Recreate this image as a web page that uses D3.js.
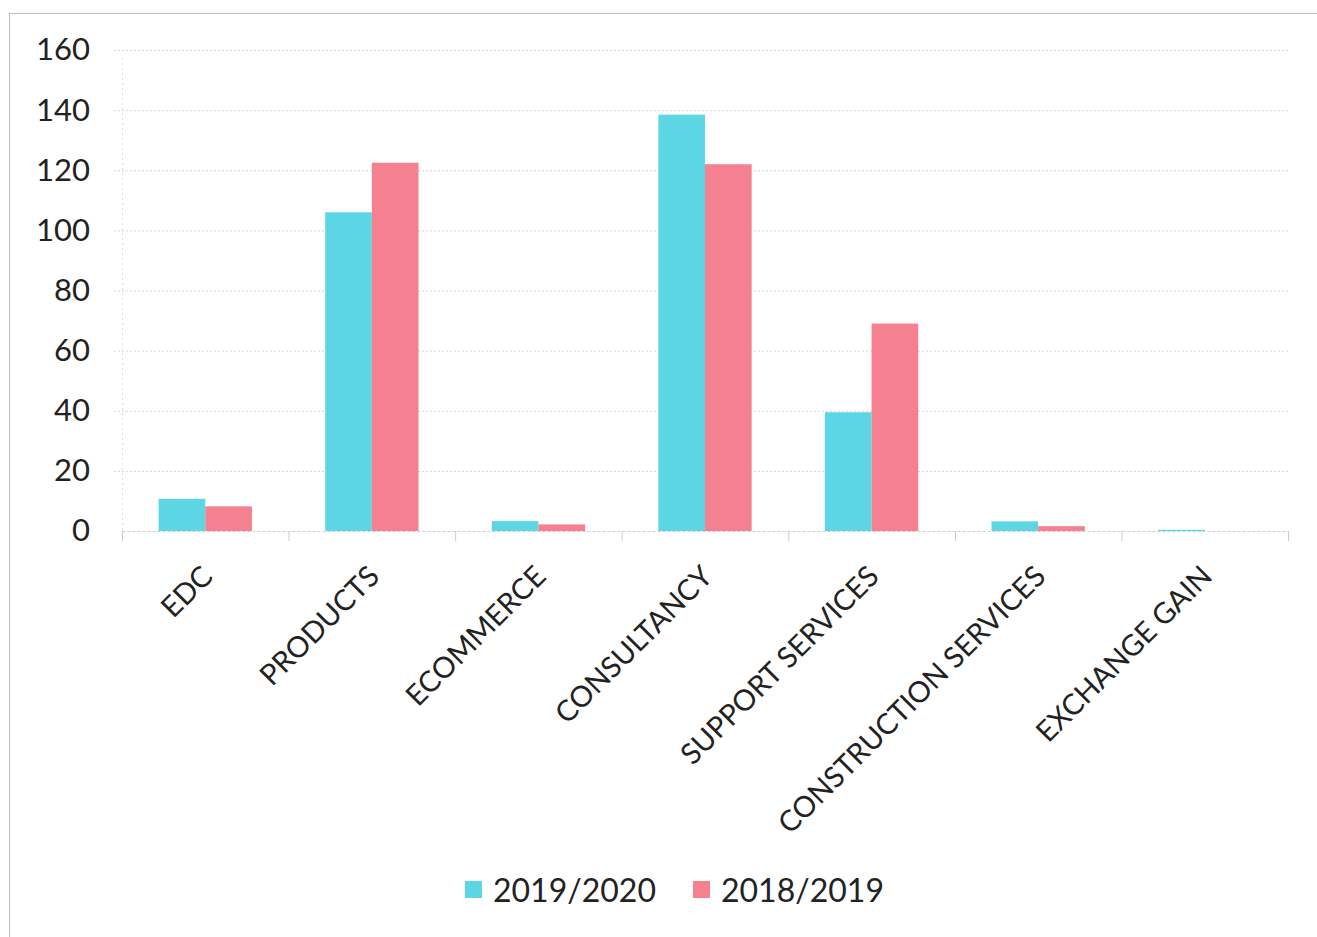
<!DOCTYPE html>
<html>
<head>
<meta charset="utf-8">
<script src="https://cdn.jsdelivr.net/npm/d3@7"></script>
<style>
  body { margin: 0; background: #fff; }
  text { font-family: Lato, "Open Sans", sans-serif; fill: #222; }
</style>
</head>
<body>
<svg id="chart" width="1317" height="937"></svg>
<script>
var categories = ["EDC", "PRODUCTS", "ECOMMERCE", "CONSULTANCY", "SUPPORT SERVICES", "CONSTRUCTION SERVICES", "EXCHANGE GAIN"];
var series = ["2019/2020", "2018/2019"];
var values2019 = [10.7, 106, 3.3, 138.5, 39.5, 3.2, 0.4];
var values2018 = [8.2, 122.5, 2.2, 122, 69, 1.6, 0];
var yTicks = [0, 20, 40, 60, 80, 100, 120, 140, 160];
var colors = ["#5cd6e4", "#f5808f"];

var svg = d3.select("#chart");
var margin = {top: 50, left: 122, right: 29, bottom: 406};
var chartWidth = 1317 - margin.left - margin.right;
var chartHeight = 937 - margin.top - margin.bottom;

// faint outer frame
svg.append("rect")
    .attr("x", 9.5).attr("y", 13.5)
    .attr("width", 1320).attr("height", 940)
    .style("fill", "none").style("stroke", "#bbb").style("stroke-width", 1);

var g = svg.append("g")
    .attr("transform", "translate(" + margin.left + "," + margin.top + ")");

var xScale = d3.scaleBand().domain(categories).range([0, chartWidth]).paddingInner(0).paddingOuter(0);
var xInner = d3.scaleBand().domain(series).range([0, xScale.bandwidth()]).paddingOuter(0.785).paddingInner(0);
var yScale = d3.scaleLinear().domain([0, 160]).range([chartHeight, 0]);

// gridlines
g.selectAll("line.grid")
    .data(yTicks.slice(1))
    .enter().append("line")
    .attr("class", "grid")
    .attr("x1", -8).attr("x2", chartWidth)
    .attr("y1", function(d){ return yScale(d) + 0.5; })
    .attr("y2", function(d){ return yScale(d) + 0.5; })
    .style("stroke", "#d4d4d4").style("stroke-dasharray", "2,2");

// y axis line
g.append("line")
    .attr("x1", 0.5).attr("x2", 0.5).attr("y1", 8).attr("y2", chartHeight + 12)
    .style("stroke", "#ddd").style("stroke-dasharray", "2,3");

var data = categories.map(function(c, i){
    return {cat: c, vals: [{s: series[0], v: values2019[i]}, {s: series[1], v: values2018[i]}]};
});

var groups = g.selectAll("g.cat")
    .data(data).enter().append("g")
    .attr("class", "cat")
    .attr("transform", function(d){ return "translate(" + xScale(d.cat) + ",0)"; });

groups.selectAll("rect")
    .data(function(d){ return d.vals; })
    .enter().append("rect")
    .attr("x", function(d){ return xInner(d.s); })
    .attr("width", xInner.bandwidth())
    .attr("y", function(d){ return yScale(d.v); })
    .attr("height", function(d){ return chartHeight - yScale(d.v); })
    .style("fill", function(d, i){ return colors[i]; });

// x axis
var xAxis = g.append("g")
    .attr("transform", "translate(0," + chartHeight + ")")
    .call(d3.axisBottom(xScale).tickSize(0).tickPadding(0));
xAxis.select(".domain").style("stroke", "#ccc").style("stroke-dasharray", "3,2");
xAxis.selectAll("text")
    .style("font-size", "29px")
    .style("font-family", "Lato, 'Open Sans', sans-serif")
    .attr("text-anchor", "end")
    .attr("dy", "0.35em")
    .attr("transform", "translate(2,40) rotate(-45)");

// category dividers
g.selectAll("line.tick")
    .data(categories.concat(["end"]))
    .enter().append("line")
    .attr("class", "tick")
    .attr("x1", function(d, i){ return i * xScale.step() + 0.5; })
    .attr("x2", function(d, i){ return i * xScale.step() + 0.5; })
    .attr("y1", chartHeight).attr("y2", chartHeight + 10)
    .style("stroke", "#ccc");

// y labels
var yAxis = g.append("g")
    .call(d3.axisLeft(yScale).tickValues(yTicks).tickSize(0).tickPadding(32));
yAxis.select(".domain").remove();
yAxis.selectAll("text")
    .style("font-size", "31px")
    .style("font-family", "Lato, 'Open Sans', sans-serif");

// legend
var legend = svg.append("g").attr("transform", "translate(465,890)");
var legendX = [0, 228];
series.forEach(function(s, i){
    var item = legend.append("g").attr("transform", "translate(" + legendX[i] + ",0)");
    item.append("rect").attr("x", 0).attr("y", -9).attr("width", 17).attr("height", 17).style("fill", colors[i]);
    item.append("text").attr("x", 28).attr("y", 0).attr("dy", "0.36em")
        .style("font-size", "32px").text(s);
});
</script>
</body>
</html>
